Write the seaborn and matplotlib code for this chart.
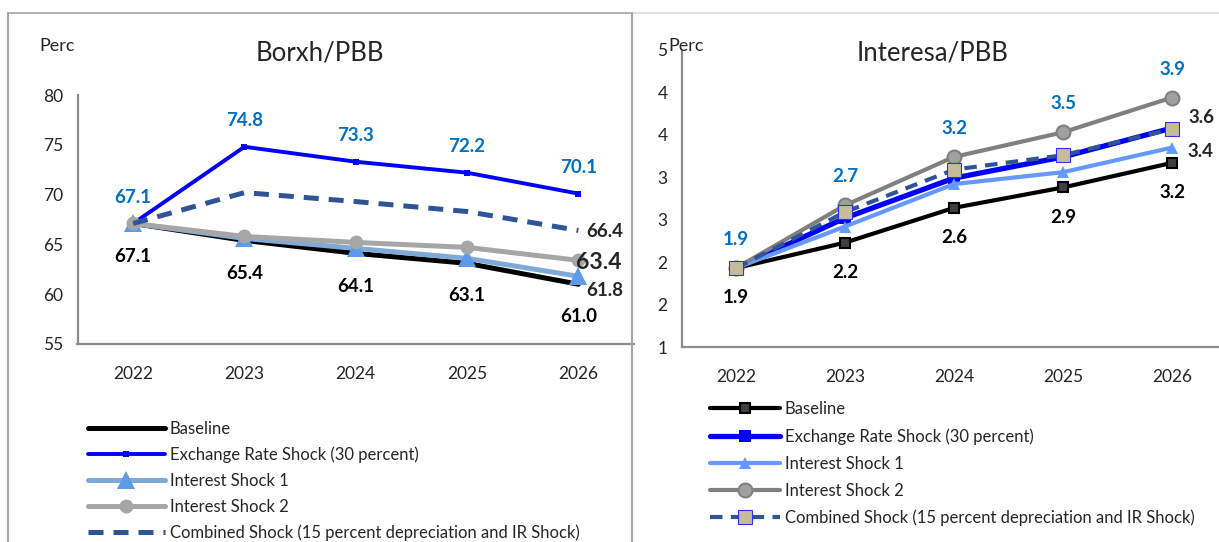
import numpy as np
import pandas as pd
import matplotlib
matplotlib.use("Agg")
import matplotlib.pyplot as plt
import seaborn as sns
from matplotlib.lines import Line2D

# data
years = ["2022", "2023", "2024", "2025", "2026"]

debt_baseline = [67.1, 65.4, 64.1, 63.1, 61.0]
debt_er_shock = [67.1, 74.8, 73.3, 72.2, 70.1]
debt_is1 = [67.1, 65.6, 64.6, 63.6, 61.8]
debt_is2 = [67.1, 65.8, 65.2, 64.7, 63.4]
debt_combined = [67.1, 70.2, 69.3, 68.3, 66.4]

int_baseline = [1.93, 2.23, 2.64, 2.88, 3.17]
int_er_shock = [1.93, 2.52, 2.99, 3.24, 3.58]
int_is1 = [1.93, 2.42, 2.92, 3.06, 3.35]
int_is2 = [1.93, 2.67, 3.24, 3.53, 3.94]
int_combined = [1.93, 2.59, 3.09, 3.26, 3.57]

int_ticks = [1.0, 1.5, 2.0, 2.5, 3.0, 3.5, 4.0, 4.5]
int_tick_labels = ["1", "2", "2", "3", "3", "4", "4", "5"]

series_names = ["Baseline", "Exchange Rate Shock (30 percent)", "Interest Shock 1",
                "Interest Shock 2", "Combined Shock (15 percent depreciation and IR Shock)"]

sns.set_theme(style="white")
plt.rcParams["font.family"] = ["Lato", "DejaVu Sans"]

W, H = 1219, 542
fig = plt.figure(figsize=(W / 100, H / 100), dpi=100)

def fx(px):
    return px / W

def fy(py):
    return 1 - py / H

x = np.arange(len(years))
blue_lbl = "#0070C0"
spine_c = "#8c8c8c"
lbl_fs = 13.5

def style_axes(ax):
    for s in ["top", "right"]:
        ax.spines[s].set_visible(False)
    for s in ["left", "bottom"]:
        ax.spines[s].set_color(spine_c)
        ax.spines[s].set_linewidth(1.6)
    ax.set_xlim(-0.5, len(years) - 0.5)
    ax.set_xticks(x)
    ax.set_xticklabels(years, fontsize=12.5)
    ax.set_xticks(np.arange(len(years) + 1) - 0.5, minor=True)
    ax.tick_params(axis="x", which="major", length=0, pad=16)
    ax.tick_params(axis="x", which="minor", length=6, width=1.4, color=spine_c, direction="out")
    ax.tick_params(axis="y", length=6, width=1.4, color=spine_c, direction="out", labelsize=12.5, pad=4)
    ax.grid(False)
    ax.set_xlabel("")
    ax.set_ylabel("")

# ---------- left panel: Borxh/PBB ----------
ax1 = fig.add_axes([fx(77.5), fy(344), fx(634 - 77.5), (344 - 95) / H])
ax1.patch.set_alpha(0)
sns.lineplot(x=x, y=debt_baseline, ax=ax1, color="black", lw=3.6, label=series_names[0])
sns.lineplot(x=x, y=debt_er_shock, ax=ax1, color="#0000FF", lw=2.8, marker="s", markersize=5,
             markeredgewidth=0, label=series_names[1])
sns.lineplot(x=x, y=debt_is1, ax=ax1, color="#7FAAD8", lw=3.6, marker="^", markersize=13,
             markerfacecolor="#5B9BEA", markeredgewidth=0, label=series_names[2])
sns.lineplot(x=x, y=debt_is2, ax=ax1, color="#A6A6A6", lw=3.6, marker="o", markersize=10,
             markeredgewidth=0, label=series_names[3])
sns.lineplot(x=x, y=debt_combined, ax=ax1, color="#2F5597", lw=3.6, linestyle=(0, (3, 2)),
             label=series_names[4])
ax1.set_ylim(55, 80)
ax1.set_yticks([55, 60, 65, 70, 75, 80])
style_axes(ax1)

for i, v in enumerate(debt_er_shock):
    ax1.annotate(f"{v:.1f}", (i, v), xytext=(0, 19), textcoords="offset points",
                 ha="center", va="center", color=blue_lbl, fontsize=lbl_fs, fontweight="bold")
for i, v in enumerate(debt_baseline):
    ax1.annotate(f"{v:.1f}", (i, v), xytext=(0, -23.5), textcoords="offset points",
                 ha="center", va="center", color="black", fontsize=lbl_fs, fontweight="bold")
ax1.annotate(f"{debt_combined[-1]:.1f}", (4, debt_combined[-1]), xytext=(6, -1),
             textcoords="offset points", ha="left", va="center", fontsize=lbl_fs, fontweight="bold",
             annotation_clip=False)
ax1.annotate(f"{debt_is2[-1]:.1f}", (4, debt_is2[-1]), xytext=(-1.5, -1.5),
             textcoords="offset points", ha="left", va="center", fontsize=16.5, fontweight="bold",
             annotation_clip=False)
ax1.annotate(f"{debt_is1[-1]:.1f}", (4, debt_is1[-1]), xytext=(6, -10),
             textcoords="offset points", ha="left", va="center", fontsize=lbl_fs, fontweight="bold",
             annotation_clip=False)

# ---------- right panel: Interesa/PBB ----------
ax2 = fig.add_axes([fx(681.5), fy(347), fx(545), (347 - 50) / H])
ax2.patch.set_alpha(0)
sns.lineplot(x=x, y=int_baseline, ax=ax2, color="black", lw=3.0, marker="s", markersize=7,
             markerfacecolor="#404040", markeredgecolor="black", markeredgewidth=1.5,
             label=series_names[0])
sns.lineplot(x=x, y=int_er_shock, ax=ax2, color="#0000FF", lw=3.8, marker="s", markersize=9,
             markeredgewidth=0, label=series_names[1])
sns.lineplot(x=x, y=int_is1, ax=ax2, color="#6699FF", lw=3.0, marker="^", markersize=8,
             markeredgewidth=0, label=series_names[2])
sns.lineplot(x=x, y=int_is2, ax=ax2, color="#808080", lw=3.0, marker="o", markersize=10,
             markerfacecolor="#A0A0A0", markeredgecolor="#808080", markeredgewidth=1.5,
             label=series_names[3])
sns.lineplot(x=x, y=int_combined, ax=ax2, color="#2F5597", lw=3.0, linestyle=(0, (3, 2)),
             marker="s", markersize=10, markerfacecolor="#C4BD97", markeredgecolor="#2F2FFF",
             markeredgewidth=0.8, label=series_names[4])
ax2.set_ylim(1, 4.5)
ax2.set_yticks(int_ticks)
ax2.set_yticklabels(int_tick_labels)
style_axes(ax2)

for i, v in enumerate(int_is2):
    ax2.annotate(f"{round(v, 1):.1f}", (i, v), xytext=(0, 20.5), textcoords="offset points",
                 ha="center", va="center", color=blue_lbl, fontsize=lbl_fs, fontweight="bold")
for i, v in enumerate(int_baseline):
    ax2.annotate(f"{round(v, 1):.1f}", (i, v), xytext=(0, -21.5), textcoords="offset points",
                 ha="center", va="center", color="black", fontsize=lbl_fs, fontweight="bold")
ax2.annotate(f"{round(int_combined[-1], 1):.1f}", (4, int_combined[-1]), xytext=(12, 8),
             textcoords="offset points", ha="left", va="center", fontsize=lbl_fs, fontweight="bold",
             annotation_clip=False)
ax2.annotate(f"{round(int_is1[-1], 1):.1f}", (4, int_is1[-1]), xytext=(11, -3),
             textcoords="offset points", ha="left", va="center", fontsize=lbl_fs, fontweight="bold",
             annotation_clip=False)

# titles and unit labels
fig.text(fx(320), fy(53), "Borxh/PBB", ha="center", va="center", fontsize=18.5)
fig.text(fx(933), fy(53), "Interesa/PBB", ha="center", va="center", fontsize=18.5)
fig.text(fx(57), fy(46), "Perc", ha="center", va="center", fontsize=13)
fig.text(fx(686), fy(46), "Perc", ha="center", va="center", fontsize=13)

# legends
for ax, lx, ly, hl, sp in [(ax1, 88, 421, 4.6, 0.58), (ax2, 710, 401, 4.2, 0.66)]:
    handles, labels = ax.get_legend_handles_labels()
    if ax.get_legend() is not None:
        ax.get_legend().remove()
    fig.legend(handles, labels, loc="upper left", bbox_to_anchor=(fx(lx), fy(ly)),
               frameon=False, fontsize=12, handlelength=hl, handletextpad=0.3,
               labelspacing=sp, borderpad=0, borderaxespad=0)

# panel frames
fig.add_artist(Line2D([fx(8), fx(632)], [fy(13), fy(13)], color="#a6a6a6", lw=1.2))
fig.add_artist(Line2D([fx(632), fx(1219)], [fy(13), fy(13)], color="#d9d9d9", lw=1.2))
fig.add_artist(Line2D([fx(8), fx(8)], [fy(13), 0], color="#a6a6a6", lw=1.5))
fig.add_artist(Line2D([fx(632), fx(632)], [fy(13), 0], color="#a6a6a6", lw=1.5))

fig.savefig("out.png", dpi=100)
